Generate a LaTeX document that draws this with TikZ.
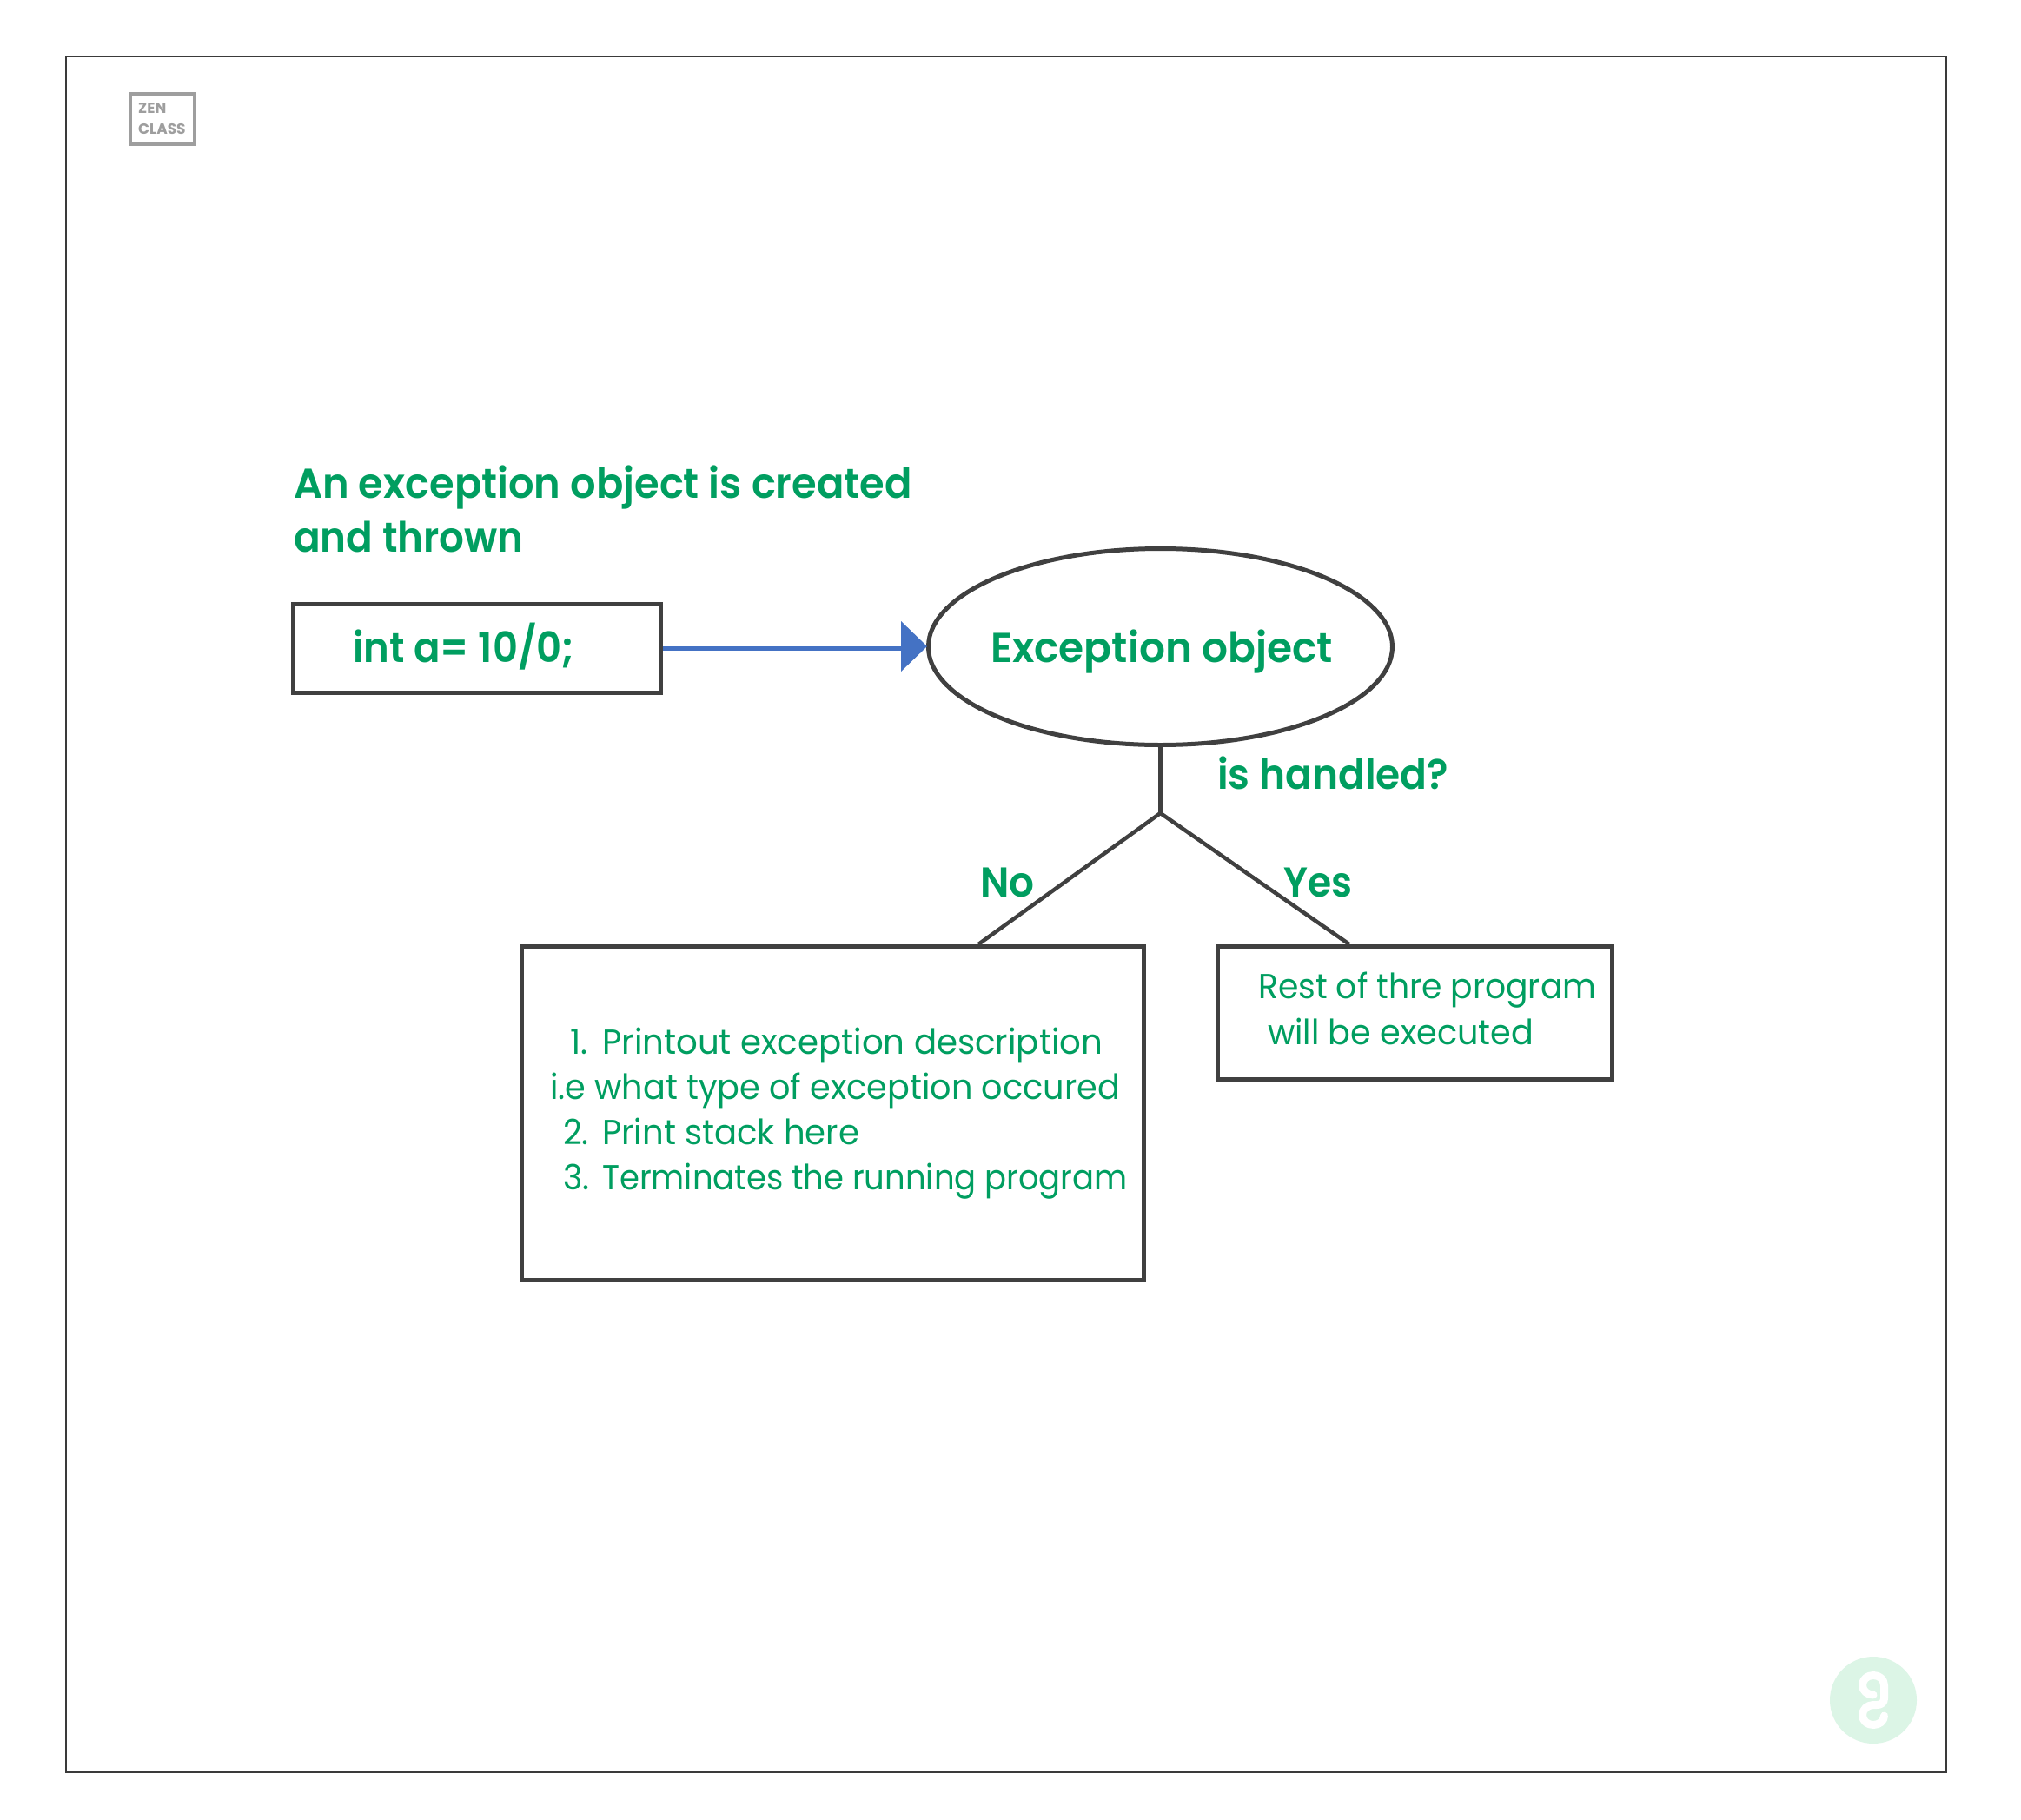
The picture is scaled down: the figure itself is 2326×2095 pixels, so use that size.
\documentclass[tikz,border=0pt]{standalone}
\usepackage{fontspec}
\usepackage{graphicx}
\setmainfont{Poppins}[FakeStretch=0.945,BoldFont={Poppins SemiBold},BoldFeatures={FakeStretch=0.985}]
\newfontfamily\zenfont{Poppins}
\usetikzlibrary{arrows.meta,shapes.geometric,calc}
\definecolor{txtgreen}{HTML}{009E60}
\definecolor{boxgray}{HTML}{404040}
\definecolor{framegray}{HTML}{3A3A3A}
\definecolor{arrowblue}{HTML}{4472C4}
\definecolor{logogreen}{HTML}{DCF5E6}
\definecolor{zengray}{HTML}{9E9E9E}
\newcommand{\sq}[2]{\scalebox{#1}[1]{#2}}
\tikzset{
  x=1pt,y=-1pt,
  shapebox/.style={draw=boxgray,line width=5pt,fill=white,inner sep=0pt},
  link/.style={draw=boxgray,line width=4.5pt},
  head/.style={text=txtgreen,anchor=base west,inner sep=0pt,font=\fontsize{48}{58}\selectfont\bfseries},
  body/.style={text=txtgreen,anchor=base west,inner sep=0pt,font=\fontsize{40}{50}\selectfont},
  zen/.style={text=zengray,anchor=base west,inner sep=0pt,font=\zenfont\fontsize{17}{19}\selectfont\bfseries},
}
\begin{document}
\begin{tikzpicture}
\useasboundingbox (0,0) rectangle (2326,2095);
\fill[white] (0,0) rectangle (2326,2095);
\node[draw=framegray,line width=1.5pt,minimum width=2164pt,minimum height=1975pt,inner sep=0pt] (frame) at (1158,1052.5) {};
% zen class
\node[draw=zengray,line width=4.5pt,minimum width=74pt,minimum height=58pt,inner sep=0pt] (zenbox) at (187,137) {};
\node[zen] (zen1) at (159,131) {ZEN};
\node[zen] (zen2) at (159,155) {CLASS};
% logo
\node[circle,fill=logogreen,minimum size=100pt,inner sep=0pt] (logo) at (2156,1957) {};
\draw[white,line width=9pt,line cap=round,line join=round]
 (2156,1951) .. controls (2149,1951) and (2143.5,1946) .. (2143.5,1940)
 .. controls (2143.5,1933) and (2149,1928.5) .. (2156,1928.5)
 .. controls (2163,1928.5) and (2168.5,1933) .. (2168.5,1940)
 -- (2168.5,1955) .. controls (2168.5,1960) and (2165,1962.5) .. (2160,1962.5)
 -- (2156,1962.5) .. controls (2149,1962.5) and (2143.5,1968) .. (2143.5,1974)
 .. controls (2143.5,1981) and (2149,1985.5) .. (2156,1985.5)
 .. controls (2163,1985.5) and (2168.5,1981) .. (2168.5,1975);
% texts
\node[head] (t1) at (338,573) {\sq{0.98}{An exception object is created}};
\node[head] (t2) at (338,635.5) {\sq{0.957}{and thrown}};
% nodes
\node[shapebox,minimum width=423pt,minimum height=102pt] (code) at (549,746.5) {};
\node[head] (codet) at (406,762) {\sq{0.95}{int a= 10/0;}};
\node[shapebox,ellipse,minimum width=534pt,minimum height=226pt] (obj) at (1335.5,744.5) {};
\node[head] (objt) at (1140,762) {\sq{0.995}{Exception object}};
\node[head] (q) at (1401,908) {\sq{0.962}{is handled?}};
\node[head] (no) at (1128,1032.5) {\sq{0.96}{No}};
\node[head] (yes) at (1477,1032.5) {\sq{0.93}{Yes}};
\node[shapebox,minimum width=716pt,minimum height=384pt] (nobox) at (958.5,1281.5) {};
\node[shapebox,minimum width=454pt,minimum height=153pt] (yesbox) at (1628.5,1166) {};
\node[body] (l1n) at (656,1213.5) {1.};
\node[body] (l1) at (693,1213.5) {\sq{1.024}{Printout exception description}};
\node[body] (l1b) at (633,1265.5) {\sq{1.011}{i.e what type of exception occured}};
\node[body] (l2n) at (648,1317.5) {2.};
\node[body] (l2) at (693,1317.5) {\sq{1.02}{Print stack here}};
\node[body] (l3n) at (648,1369.5) {3.};
\node[body] (l3) at (693,1369.5) {\sq{0.978}{Terminates the running program}};
\node[body] (r1) at (1448,1149.5) {\sq{0.997}{Rest of thre program}};
\node[body] (r2) at (1459,1202) {\sq{1.01}{will be executed}};
% connectors
\coordinate (fork) at (obj.south |- 0,936);
\coordinate (noend) at (1126,1087);
\coordinate (yesend) at (1553,1087);
\draw[link] (obj.south) -- (fork);
\draw[link] (fork) -- (noend);
\draw[link] (fork) -- (yesend);
\coordinate (hb) at (code.east -| 1037,0);
\draw[arrowblue,line width=5pt] (code.east) -- (hb);
\fill[arrowblue] (1067,744) -- (1037,715) -- (1037,773) -- cycle;
\end{tikzpicture}
\end{document}
